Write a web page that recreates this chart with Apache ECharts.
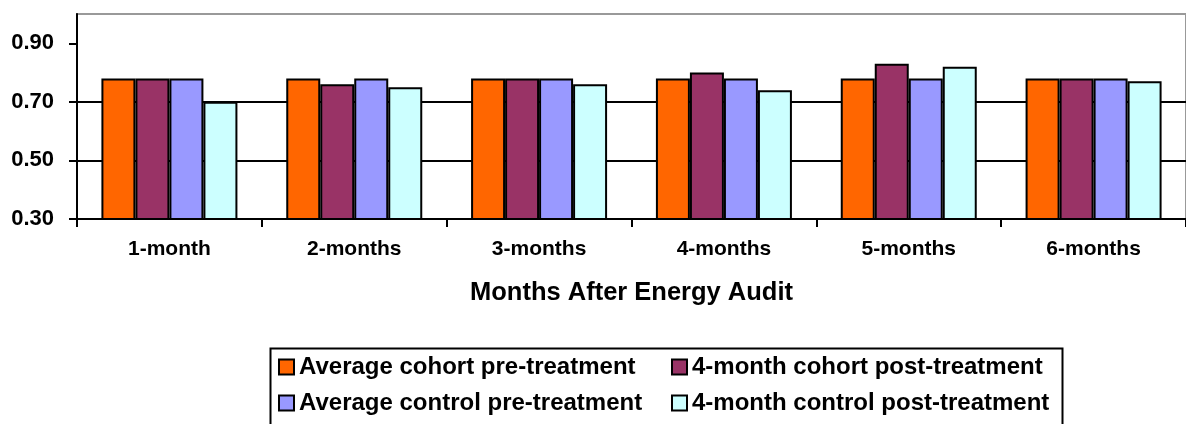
<!DOCTYPE html>
<html>
<head>
<meta charset="utf-8">
<script src="https://cdn.jsdelivr.net/npm/echarts@6/dist/echarts.min.js"></script>
<style>
  html, body { margin: 0; padding: 0; background: #fff; }
  #chart { width: 1186px; height: 424px; }
</style>
</head>
<body>
<div id="chart"></div>
<script>
const categories = ['1-month', '2-months', '3-months', '4-months', '5-months', '6-months']
const cohortPre = [0.78, 0.78, 0.78, 0.78, 0.78, 0.78]
const cohortPost = [0.78, 0.76, 0.78, 0.80, 0.83, 0.78]
const controlPre = [0.78, 0.78, 0.78, 0.78, 0.78, 0.78]
const controlPost = [0.70, 0.75, 0.76, 0.74, 0.82, 0.77]
const yTicks = [0.3, 0.5, 0.7, 0.9]

const font = "'Liberation Sans', Arial, sans-serif"

const chart = echarts.init(document.getElementById('chart'))

function bar(name, data, color) {
  return {
    name: name,
    type: 'bar',
    data: data,
    barWidth: 34,
    barGap: '0%',
    itemStyle: { color: color, borderColor: '#000', borderWidth: 2 }
  }
}

const legendBase = {
  orient: 'vertical',
  top: 355,
  padding: 0,
  icon: 'rect',
  itemWidth: 15,
  itemHeight: 15,
  itemGap: 12,
  itemStyle: { borderColor: '#000', borderWidth: 2 },
  textStyle: { fontFamily: font, fontWeight: 'bold', fontSize: 24, color: '#000', lineHeight: 24 }
}

const option = {
  animation: false,
  grid: {
    left: 77,
    right: -7,
    top: 14,
    bottom: 205,
    show: true,
    borderColor: '#999',
    borderWidth: 2
  },
  xAxis: {
    type: 'category',
    data: categories,
    axisLine: { lineStyle: { color: '#000', width: 2 } },
    axisTick: { show: true, length: 8, lineStyle: { color: '#000', width: 2 } },
    axisLabel: { margin: 20, fontFamily: font, fontWeight: 'bold', fontSize: 21, color: '#000' },
    name: 'Months After Energy Audit',
    nameLocation: 'middle',
    nameGap: 61,
    nameTextStyle: { fontFamily: font, fontWeight: 'bold', fontSize: 25.5, color: '#000' }
  },
  yAxis: {
    type: 'value',
    min: 0.3,
    max: 1.0,
    axisLine: { show: true, lineStyle: { color: '#000', width: 2 } },
    axisTick: { show: true, length: 8, customValues: yTicks, lineStyle: { color: '#000', width: 2 } },
    axisLabel: {
      margin: 23,
      customValues: yTicks,
      fontFamily: font,
      fontWeight: 'bold',
      fontSize: 22,
      color: '#000',
      formatter: (v) => v.toFixed(2)
    },
    splitLine: { show: true, showMaxLine: false, lineStyle: { color: '#000', width: 2 } }
  },
  legend: [
    Object.assign({}, legendBase, { left: 278, data: ['Average cohort pre-treatment', 'Average control pre-treatment'] }),
    Object.assign({}, legendBase, { left: 671, data: ['4-month cohort post-treatment', '4-month control post-treatment'] })
  ],
  graphic: [
    {
      type: 'rect',
      left: 268,
      top: 346,
      shape: { width: 792, height: 90 },
      style: { fill: 'none', stroke: '#000', lineWidth: 2 },
      z: -1
    }
  ],
  series: [
    bar('Average cohort pre-treatment', cohortPre, '#FF6600'),
    bar('4-month cohort post-treatment', cohortPost, '#993366'),
    bar('Average control pre-treatment', controlPre, '#9999FF'),
    bar('4-month control post-treatment', controlPost, '#CCFFFF')
  ]
}

chart.setOption(option)
</script>
</body>
</html>
